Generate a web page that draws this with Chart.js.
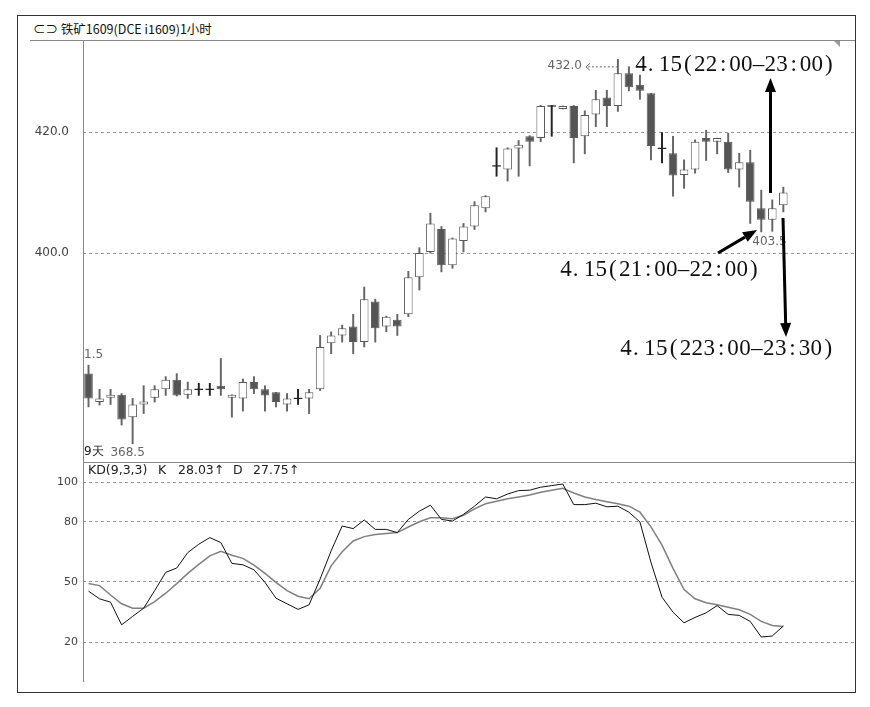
<!DOCTYPE html>
<html>
<head>
<meta charset="utf-8">
<script src="https://cdn.jsdelivr.net/npm/chart.js@4.4.1/dist/chart.umd.min.js"></script>
<style>
  body { margin: 0; background: #fff; width: 870px; height: 707px; position: relative; overflow: hidden; }
  #frame { position: absolute; left: 17px; top: 15px; width: 837px; height: 676px; border: 1px solid #333; }
  #title { position: absolute; left: 33px; top: 19px; font: 12.5px "Noto Sans CJK SC", sans-serif; color: #111; white-space: nowrap; }
  .hl { position: absolute; height: 1px; background: #888; z-index: 2; }
  .vl { position: absolute; width: 1px; background: #888; z-index: 2; }
  #main { position: absolute; left: 0; top: 40px; }
  #kd { position: absolute; left: 0; top: 462px; }
</style>
</head>
<body>
<div id="frame"></div>
<div id="title">⊂⊃ 铁矿1609(DCE i1609)1小时</div>
<div class="hl" style="left:30px;top:40px;width:825px"></div>
<div class="hl" style="left:83px;top:462px;width:772px"></div>
<div class="vl" style="left:83px;top:40px;height:642px"></div>
<canvas id="main" width="870" height="422"></canvas>
<canvas id="kd" width="870" height="220"></canvas>
<script>
// 1 hour candles, i1609
const opens = [380.1, 375.4, 376.1, 376.6, 372.9, 375.0, 376.1, 377.5, 379.1, 376.6, 377.5, 377.5, 378.1, 376.1, 376.0, 378.7,
  377.5, 377.0, 375.0, 376.0, 376.0, 377.5, 385.1, 386.4, 387.9, 385.3, 392.0, 387.9, 389.0, 389.9, 396.0, 400.2,
  404.0, 398.0, 402.0, 404.4, 407.4, 414.4, 413.8, 417.3, 419.3, 419.0, 424.3, 423.8, 424.3, 419.3, 422.9, 425.7,
  424.3, 429.7, 427.8, 426.4, 417.3, 416.5, 412.9, 413.8, 419.0, 418.4, 418.4, 413.8, 415.0, 407.4, 405.5, 407.9];
const highs = [381.5, 377.5, 377.5, 376.8, 376.0, 378.1, 378.1, 379.6, 380.1, 378.7, 378.5, 378.5, 382.6, 376.6, 379.2, 379.6,
  378.1, 377.0, 376.8, 377.5, 377.5, 386.4, 387.0, 388.1, 389.9, 394.4, 392.4, 389.6, 389.9, 397.0, 400.9, 406.6,
  404.4, 402.5, 404.9, 408.5, 409.5, 417.4, 417.4, 418.6, 419.4, 424.4, 424.4, 424.3, 424.4, 423.5, 426.9, 426.9,
  432.0, 430.8, 429.4, 426.4, 419.9, 419.3, 415.4, 418.7, 420.3, 419.0, 419.8, 416.5, 417.0, 410.4, 408.8, 410.9];
const lows = [374.6, 374.9, 375.0, 371.6, 368.5, 373.5, 375.4, 376.5, 376.4, 376.0, 376.5, 376.5, 376.5, 372.9, 373.9, 376.8,
  373.9, 374.6, 373.9, 375.0, 373.5, 377.3, 383.4, 385.3, 383.4, 384.5, 385.3, 387.0, 386.4, 389.5, 393.9, 400.0,
  396.9, 397.5, 400.2, 403.9, 406.8, 412.7, 411.9, 412.7, 414.4, 418.4, 419.3, 423.8, 414.9, 416.4, 420.9, 420.9,
  423.4, 426.8, 425.4, 415.4, 414.9, 409.4, 410.7, 413.2, 415.3, 416.4, 413.3, 410.9, 404.9, 403.5, 403.6, 406.8];
const closes = [376.0, 376.0, 376.6, 372.5, 375.0, 375.5, 377.5, 379.1, 376.5, 377.5, 377.5, 377.5, 377.5, 376.6, 378.7, 377.5,
  376.5, 375.4, 376.0, 376.0, 377.0, 384.5, 386.4, 387.6, 385.3, 392.4, 387.6, 389.5, 387.9, 396.0, 400.0, 404.9,
  398.0, 402.4, 404.4, 407.9, 409.4, 414.4, 417.3, 417.9, 418.4, 424.3, 424.3, 424.3, 419.0, 422.8, 425.4, 424.3,
  429.7, 427.4, 426.8, 417.7, 417.3, 412.8, 413.8, 418.4, 418.4, 419.0, 413.8, 415.0, 408.5, 405.5, 407.4, 410.0];

// KD(9,3,3)
const kValues = [45.4, 41.6, 39.9, 28.6, 32.8, 36.9, 45.7, 54.8, 57.0, 64.7, 68.9, 72.2, 69.7, 59.3, 58.6, 56.1,
  49.8, 41.9, 39.1, 36.3, 38.6, 51.5, 65.6, 78.0, 76.7, 81.0, 76.3, 76.3, 74.7, 81.3, 85.4, 88.4,
  81.3, 80.5, 83.8, 87.9, 92.5, 91.6, 94.0, 95.7, 95.9, 97.4, 98.2, 99.0, 88.7, 88.7, 89.4, 87.6,
  87.9, 84.9, 80.0, 59.8, 42.4, 34.9, 29.6, 32.3, 34.6, 38.2, 33.8, 33.3, 30.3, 22.5, 23.0, 28.03];
const dValues = [49.3, 48.2, 43.5, 39.1, 36.9, 36.9, 40.2, 44.4, 49.2, 54.3, 58.8, 63.1, 65.4, 63.4, 61.8, 58.4,
  54.3, 49.8, 45.7, 42.9, 41.6, 46.9, 58.1, 65.1, 70.5, 72.7, 73.7, 74.2, 74.7, 77.5, 80.1, 82.1,
  82.1, 81.6, 83.4, 86.6, 89.1, 90.4, 91.6, 92.5, 93.5, 94.9, 95.9, 96.9, 94.5, 92.5, 91.2, 90.1,
  89.1, 87.9, 84.9, 77.6, 68.4, 56.8, 46.2, 41.6, 39.6, 38.6, 37.4, 36.1, 33.8, 30.3, 28.3, 27.75];

const priceTicks = [400, 420];
const kdTicks = [20, 50, 80, 100];
const slotCount = 70; // 64 candles + empty space on the right
const slotLabels = Array.from({ length: slotCount }, (_, i) => String(i + 1));

const isDoji = opens.map((o, i) => o === closes[i]);
const bodies = opens.map((o, i) => {
  const c = closes[i];
  if (isDoji[i]) return [o - 0.1, o + 0.1];
  return [Math.min(o, c), Math.max(o, c)];
});
const wicks = lows.map((l, i) => [l, highs[i]]);
const bodyFill = opens.map((o, i) => isDoji[i] ? '#222' : (closes[i] > o ? '#fff' : '#555'));
const bodyBorder = opens.map((o, i) => isDoji[i] ? '#222' : '#5a5a5a');
const wickColor = opens.map((o, i) => isDoji[i] ? '#222' : '#666');

// fixed axis width, and no extra vertical padding from the tick labels
function fitLeft(w) {
  return function (scale) {
    scale.width = w;
    scale.paddingTop = 0;
    scale.paddingBottom = 0;
  };
}

function drawArrow(ctx, x1, y1, x2, y2) {
  const ang = Math.atan2(y2 - y1, x2 - x1);
  const len = 14, half = 5.5;
  const bx = x2 - len * Math.cos(ang), by = y2 - len * Math.sin(ang);
  ctx.save();
  ctx.strokeStyle = '#000';
  ctx.fillStyle = '#000';
  ctx.lineWidth = 3;
  ctx.beginPath();
  ctx.moveTo(x1, y1);
  ctx.lineTo(bx, by);
  ctx.stroke();
  ctx.beginPath();
  ctx.moveTo(x2, y2);
  ctx.lineTo(bx + half * Math.sin(ang), by - half * Math.cos(ang));
  ctx.lineTo(bx - half * Math.sin(ang), by + half * Math.cos(ang));
  ctx.closePath();
  ctx.fill();
  ctx.restore();
}

// SimSun-like: every character in a half-width cell
function drawCells(ctx, str, x, y, adv) {
  for (const ch of str) {
    if (ch === '.') {
      ctx.textAlign = 'left';
      ctx.fillText(ch, x + 1, y);
    } else {
      ctx.textAlign = 'center';
      ctx.fillText(ch, x + adv / 2, y);
    }
    x += adv;
  }
}

const mainNotes = {
  id: 'mainNotes',
  afterDraw(chart) {
    const ctx = chart.ctx;
    const xs = chart.scales.x, ys = chart.scales.y;
    ctx.save();
    ctx.font = '12px "DejaVu Sans"';
    ctx.textBaseline = 'middle';

    // clipped high label at the left edge
    ctx.fillStyle = '#666';
    ctx.textAlign = 'left';
    ctx.fillText('1.5', 84, ys.getPixelForValue(highs[0]) - 10);

    // lowest low
    const minLow = Math.min(...lows);
    const minIdx = lows.indexOf(minLow);
    ctx.fillStyle = '#222';
    ctx.fillText('9天', 84, ys.getPixelForValue(minLow) + 8);
    ctx.fillStyle = '#666';
    ctx.textAlign = 'center';
    ctx.fillText(minLow.toFixed(1), xs.getPixelForValue(minIdx) - 5, ys.getPixelForValue(minLow) + 9);

    // highest high with dashed pointer
    const maxHigh = Math.max(...highs);
    const maxIdx = highs.indexOf(maxHigh);
    const hx = xs.getPixelForValue(maxIdx), hy = ys.getPixelForValue(maxHigh) + 7;
    ctx.textAlign = 'right';
    ctx.fillText(maxHigh.toFixed(1), hx - 36, hy);
    ctx.strokeStyle = '#666';
    ctx.lineWidth = 1;
    ctx.setLineDash([2, 2]);
    ctx.beginPath();
    ctx.moveTo(hx - 30, hy + 0.5);
    ctx.lineTo(hx - 1, hy + 0.5);
    ctx.stroke();
    ctx.setLineDash([]);
    ctx.beginPath();
    ctx.moveTo(hx - 28, hy - 3);
    ctx.lineTo(hx - 32, hy + 0.5);
    ctx.lineTo(hx - 28, hy + 4);
    ctx.stroke();

    // recent low
    const lastLowIdx = 61;
    ctx.textAlign = 'left';
    ctx.fillText(lows[lastLowIdx].toFixed(1), xs.getPixelForValue(lastLowIdx) - 9, ys.getPixelForValue(lows[lastLowIdx]) + 10);

    // corner mark
    ctx.fillStyle = '#999';
    ctx.beginPath();
    ctx.moveTo(833, 0);
    ctx.lineTo(840, 0);
    ctx.lineTo(840, 7);
    ctx.closePath();
    ctx.fill();

    // hand annotations
    ctx.fillStyle = '#111';
    ctx.font = '23px "Liberation Serif"';
    ctx.textBaseline = 'alphabetic';
    drawCells(ctx, '4.15(22:00–23:00)', 635, 31, 11.75);
    drawCells(ctx, '4.15(21:00–22:00)', 560, 236, 11.75);
    drawCells(ctx, '4.15(223:00–23:30)', 620, 315, 11.9);
    drawArrow(ctx, 770.5, 153, 770.5, 38);
    drawArrow(ctx, 718, 213, 757, 190);
    drawArrow(ctx, 783, 178, 786, 297);
    ctx.restore();
  }
};

const kdNotes = {
  id: 'kdNotes',
  afterDraw(chart) {
    const ctx = chart.ctx;
    ctx.save();
    ctx.font = '12.5px "DejaVu Sans"';
    ctx.textBaseline = 'middle';
    ctx.textAlign = 'left';
    ctx.fillStyle = '#222';
    const k = kValues[kValues.length - 1], d = dValues[dValues.length - 1];
    ctx.fillText('KD(9,3,3)', 88, 9);
    ctx.fillText('K', 158, 9);
    ctx.fillText(k.toFixed(2) + '↑', 178, 9);
    ctx.fillText('D', 233, 9);
    ctx.fillText(d.toFixed(2) + '↑', 253, 9);
    ctx.restore();
  }
};

const common = {
  responsive: false,
  animation: false,
  events: [],
  plugins: { legend: { display: false }, tooltip: { enabled: false } },
};

new Chart(document.getElementById('main').getContext('2d'), {
  type: 'bar',
  data: {
    labels: slotLabels,
    datasets: [
      {
        label: 'body',
        data: bodies,
        backgroundColor: bodyFill,
        borderColor: bodyBorder,
        borderWidth: isDoji.map(d => d ? 0 : 1),
        borderSkipped: false,
        grouped: false,
        categoryPercentage: 1,
        barPercentage: 0.78,
        order: 1
      },
      {
        label: 'wick',
        data: wicks,
        backgroundColor: wickColor,
        borderWidth: 0,
        grouped: false,
        barThickness: 1.3,
        order: 2
      }
    ]
  },
  options: {
    ...common,
    layout: { padding: { left: 0, right: 15, top: 0, bottom: 0 } },
    scales: {
      x: { type: 'category', offset: true, display: false, grid: { display: false } },
      y: {
        min: 365.5,
        max: 435.2,
        afterFit: fitLeft(83),
        afterBuildTicks: scale => { scale.ticks = priceTicks.map(v => ({ value: v })); },
        ticks: {
          padding: 14,
          color: '#444',
          font: { family: 'DejaVu Sans', size: 12 },
          callback: v => v.toFixed(1)
        },
        grid: { color: '#9a9a9a', drawTicks: false },
        border: { display: false, dash: [3, 3] }
      }
    }
  },
  plugins: [mainNotes]
});

new Chart(document.getElementById('kd').getContext('2d'), {
  type: 'line',
  data: {
    labels: slotLabels,
    datasets: [
      { label: 'K', data: kValues, borderColor: '#111', borderWidth: 1, pointRadius: 0, tension: 0 },
      { label: 'D', data: dValues, borderColor: '#808080', borderWidth: 1.5, pointRadius: 0, tension: 0 }
    ]
  },
  options: {
    ...common,
    layout: { padding: { left: 0, right: 15, top: 0, bottom: 0 } },
    scales: {
      x: { type: 'category', offset: true, display: false, grid: { display: false } },
      y: {
        min: 0,
        max: 110,
        afterFit: fitLeft(83),
        afterBuildTicks: scale => { scale.ticks = kdTicks.map(v => ({ value: v })); },
        ticks: {
          padding: 5,
          color: '#444',
          font: { family: 'DejaVu Sans', size: 11 },
          callback: v => String(v)
        },
        grid: { color: '#9a9a9a', drawTicks: false },
        border: { display: false, dash: [3, 3] }
      }
    }
  },
  plugins: [kdNotes]
});
</script>
</body>
</html>
